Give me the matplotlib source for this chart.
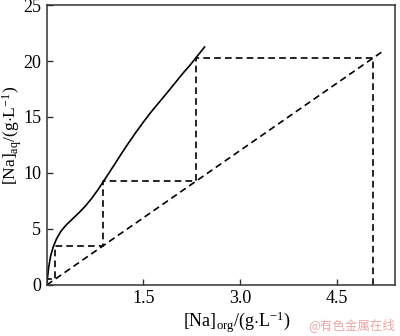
import matplotlib.pyplot as plt

plt.rcParams['font.family'] = ['Liberation Serif']
plt.rcParams['mathtext.fontset'] = 'custom'
plt.rcParams['mathtext.rm'] = 'Liberation Serif'
plt.rcParams['mathtext.it'] = 'Liberation Serif:italic'

# equilibrium curve
eq_x = [0.0, 0.01, 0.03, 0.06, 0.1, 0.15, 0.22, 0.3, 0.4, 0.5, 0.6, 0.7,
        0.8, 0.88, 0.96, 1.05, 1.15, 1.26, 1.38, 1.5, 1.62, 1.75, 1.88,
        2.0, 2.12, 2.22, 2.31, 2.45]
eq_y = [0.0, 0.6, 1.6, 2.6, 3.4, 4.1, 4.8, 5.35, 5.9, 6.45, 7.05, 7.75,
        8.55, 9.25, 9.95, 10.75, 11.65, 12.6, 13.6, 14.55, 15.45, 16.35,
        17.25, 18.1, 18.95, 19.6, 20.25, 21.25]

# operating line
op_x = [0.0, 5.2]
op_y = [0.0, 20.8]

# stage construction
st_x = [5.07, 5.07, 2.31, 2.31, 0.88, 0.88, 0.12, 0.12, 0.0]
st_y = [0.0, 20.25, 20.25, 9.25, 9.25, 3.5, 3.5, 0.5, 0.5]

xticks = [1.5, 3.0, 4.5]
xtick_labels = ['1.5', '3.0', '4.5']
yticks = [0, 5, 10, 15, 20, 25]

fig = plt.figure(figsize=(4.0, 3.36), dpi=100)
ax = fig.add_axes([0.117, 0.152, 0.871, 0.833])

ax.plot(eq_x, eq_y, color='black', lw=1.2)
ax.plot(op_x, op_y, color='black', lw=1.2, dashes=(4, 2.5))
ax.plot(st_x, st_y, color='black', lw=1.2, dashes=(4, 2.5))

ax.set_xlim(0, 5.41)
ax.set_ylim(0, 25)
ax.set_xticks(xticks)
ax.set_xticklabels(xtick_labels)
ax.set_yticks(yticks)
ax.tick_params(direction='in', labelsize=13, length=4, width=1, pad=4,
               colors='#333333', labelcolor='black')
for s in ax.spines.values():
    s.set_linewidth(1.1)
    s.set_color('#333333')

ax.set_xlabel(r'[Na]$_{\mathrm{org}}$/(g$\cdot$L$^{-1}$)', fontsize=13,
              va='center', ha='center')
ax.set_ylabel(r'[Na]$_{\mathrm{aq}}$/(g$\cdot$L$^{-1}$)', fontsize=12.5,
              va='center', ha='center')
ax.xaxis.set_label_coords(0.545, -0.135)
ax.yaxis.set_label_coords(-0.1, 0.535)

fig.text(0.988, 0.012, '@有色金属在线', color='#eaa8a8', fontsize=9,
         ha='right', va='bottom', family=['Noto Sans CJK SC', 'DejaVu Sans'])

fig.savefig('out.png', dpi=100)
